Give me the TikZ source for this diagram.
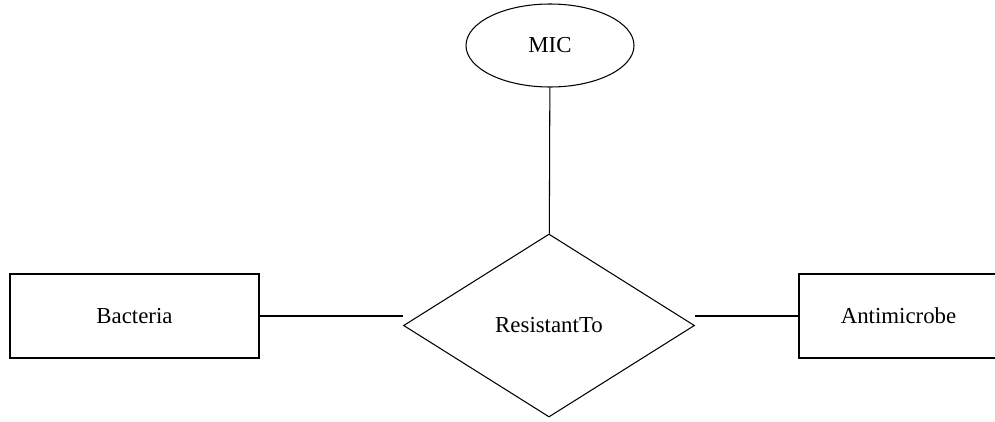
\documentclass[tikz,border=0pt]{standalone}
\usepackage{fontspec}
\setmainfont{Liberation Serif}
\usetikzlibrary{shapes.geometric}

\begin{document}
\begin{tikzpicture}[
    entity/.style = {rectangle, draw, line width=0.6pt, minimum width=4.98cm, minimum height=1.68cm, font=\fontsize{13}{15}\selectfont},
    relation/.style = {diamond, draw, line width=0.6pt, minimum width=5.82cm, minimum height=3.66cm, inner sep=0pt, aspect=1.6, font=\fontsize{13}{15}\selectfont},
    attr/.style = {ellipse, draw, line width=0.6pt, minimum width=3.36cm, minimum height=1.66cm, inner sep=0pt, font=\fontsize{13}{15}\selectfont},
    link/.style = {draw, line width=0.6pt}
]
    \useasboundingbox (0, 0) rectangle (19.9, 8.42);

    \node[attr] (mic) at (11.0, 7.51) {MIC};
    \node[relation] (res) at (10.98, 1.91) {ResistantTo};
    \node[entity] (bac) at (2.69, 2.1) {Bacteria};
    \node[entity, minimum width=3.98cm] (anti) at (17.97, 2.1) {Antimicrobe};

    \path[link] (mic) -- (res);
    \path[link] (bac) -- (bac -| res.west);
    \path[link] (anti) -- (anti -| res.east);
\end{tikzpicture}
\end{document}
